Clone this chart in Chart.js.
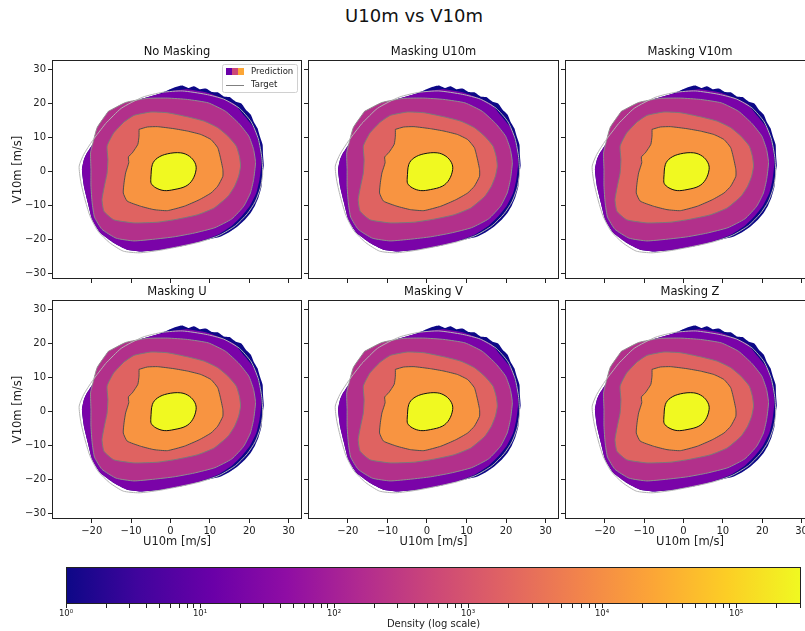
<!DOCTYPE html>
<html>
<head>
<meta charset="utf-8">
<script src="https://cdn.jsdelivr.net/npm/chart.js@4.4.1/dist/chart.umd.min.js"></script>
<style>
  body { margin: 0; background: #fff; }
  #page { position: relative; width: 805px; height: 631px; overflow: hidden; background: #fff; }
  #page canvas { position: absolute; }
  #suptitle { position: absolute; left: 0; top: 6px; width: 828px; text-align: center;
              font: 18px 'DejaVu Sans', sans-serif; line-height: 20px; color: #111; }
</style>
</head>
<body>
<div id="page">
  <div id="suptitle">U10m vs V10m</div>
</div>
<script>
// ---- data ----
const panelTitles = ['No Masking', 'Masking U10m', 'Masking V10m', 'Masking U', 'Masking V', 'Masking Z'];
const xTicks = [-20, -10, 0, 10, 20, 30];
const yTicks = [-30, -20, -10, 0, 10, 20, 30];
const xRange = [-30.1, 33.4];
const yRange = [-31.7, 32.7];
const densityRange = [1, 305000];
const densityTicks = [1, 10, 100, 1000, 10000, 100000];

// density contours (U10m / V10m in m/s), outermost first
const navyU = [-16.1, -12.7, -7.6, -3.3, -0.5, 1.5, 3.0, 4.5, 6.0, 7.5, 9.0, 10.5, 12.0, 13.5, 15.0, 16.5, 18.0, 19.2, 20.4, 21.2, 22.1, 22.7, 23.4, 23.5, 23.7, 23.3, 23.1, 22.4, 21.5, 20.3, 18.9, 17.1, 15.0, 12.6, 7.7, 2.6, -2.5, -7.6, -11.0, -14.4, -17.8, -19.9, -21.0, -22.0, -22.5, -22.0, -21.2, -19.5];
const navyV = [13.3, 17.7, 21.1, 22.6, 23.9, 24.8, 25.2, 24.5, 25.0, 24.1, 24.3, 23.3, 23.2, 22.0, 21.8, 20.5, 19.9, 18.0, 16.6, 14.4, 12.6, 10.3, 7.8, 4.8, 1.8, -1.5, -4.6, -7.5, -10.0, -12.4, -14.3, -16.2, -17.9, -19.3, -20.6, -22.1, -23.1, -23.6, -23.1, -21.1, -18.2, -14.3, -9.3, -4.4, 0.5, 3.4, 5.4, 8.4];

const purpleU = [-16.1, -12.7, -7.6, -3.3, 0.1, 4.3, 9.4, 12.9, 16.3, 18.8, 21.4, 22.6, 23.1, 22.6, 21.8, 20.1, 18.0, 15.4, 12.0, 7.7, 2.6, -2.5, -7.6, -11.0, -14.4, -17.8, -19.9, -21.0, -22.0, -22.5, -22.0, -21.2, -19.5];
const purpleV = [13.3, 17.7, 21.1, 22.6, 23.6, 24.1, 23.1, 21.6, 19.7, 16.2, 12.3, 7.4, 2.5, -2.5, -6.4, -10.3, -13.3, -16.2, -18.7, -20.6, -22.1, -23.1, -23.6, -23.1, -21.1, -18.2, -14.3, -9.3, -4.4, 0.5, 3.4, 5.4, 8.4];

const magentaU = [-15.8, -11.4, -6.0, -0.8, 4.3, 9.6, 14.0, 17.4, 19.9, 21.1, 21.6, 21.1, 20.3, 18.6, 15.6, 11.3, 6.0, 0.9, -4.2, -9.3, -13.8, -17.4, -19.3, -19.9, -20.2, -20.2, -20.3, -19.6, -18.6];
const magentaV = [17.6, 20.2, 21.4, 21.5, 21.1, 20.1, 17.6, 14.0, 10.3, 6.4, 2.5, -2.5, -6.4, -10.3, -14.0, -16.6, -18.2, -19.3, -20.0, -20.5, -19.7, -17.1, -13.5, -9.3, -4.4, 0.5, 5.4, 8.8, 12.9];

const pinkU = [-11.8, -9.3, -5.0, -0.8, 4.3, 8.6, 12.0, 14.6, 16.7, 17.5, 17.8, 17.3, 16.3, 14.6, 11.1, 6.9, 1.8, -3.3, -9.3, -14.4, -16.9, -17.4, -16.8, -16.1, -15.9, -16.1, -14.4];
const pinkV = [14.5, 16.4, 17.4, 17.2, 16.0, 14.7, 12.8, 10.3, 7.4, 4.4, 1.5, -1.5, -4.4, -7.4, -10.8, -12.8, -14.1, -15.0, -15.2, -14.3, -11.8, -8.4, -4.4, -0.5, 3.4, 7.4, 11.3];

const orangeU = [-8.0, -5.9, -3.3, 0.9, 4.3, 7.7, 10.3, 12.0, 12.7, 13.3, 13.3, 12.0, 10.3, 7.3, 3.5, -0.8, -4.2, -7.6, -11.0, -12.0, -11.8, -11.4, -10.6, -10.7, -9.7, -8.3, -8.0];
const orangeV = [12.3, 13.0, 13.1, 12.5, 11.8, 10.8, 9.3, 6.9, 3.9, 0.5, -1.5, -4.4, -6.4, -8.4, -10.3, -11.6, -11.3, -10.3, -8.8, -6.4, -3.4, -0.5, 2.5, 4.2, 5.4, 7.9, 10.3];

const yellowU = [-5.0, -4.6, -3.3, -0.8, 2.6, 4.8, 6.2, 6.5, 5.6, 3.9, 0.9, -1.6, -3.7, -4.9];
const yellowV = [-2.0, 2.0, 3.9, 5.1, 5.4, 4.4, 2.5, 0.5, -2.5, -4.4, -5.4, -5.7, -4.9, -3.6];

// outermost target contour
const targetU = [-16.5, -12.5, -7.0, -2.0, 3.0, 9.0, 13.5, 17.5, 20.5, 22.3, 23.2, 23.4, 22.8, 21.5, 19.5, 16.5, 12.5, 7.5, 2.0, -3.0, -8.0, -12.0, -15.5, -18.5, -20.5, -21.8, -22.8, -23.2, -22.0, -19.8];
const targetV = [14.0, 18.5, 21.8, 23.2, 23.6, 22.6, 21.2, 18.5, 14.5, 9.5, 4.0, -1.0, -5.0, -9.0, -12.5, -16.0, -18.8, -20.8, -22.2, -23.3, -24.0, -23.5, -21.0, -17.5, -13.0, -8.0, -3.0, 1.5, 5.0, 9.0];

// ---- styling / layout ----
const plasma = ['#0d0887', '#41049d', '#6a00a8', '#8f0da4', '#b12a90', '#cc4778',
                '#e16462', '#f2844b', '#fca636', '#fcce25', '#f0f921'];
const levels = [
  { u: navyU, v: navyV, fill: '#0d0887', line: null },
  { u: purpleU, v: purpleV, fill: '#7a03a8', line: null },
  { u: magentaU, v: magentaV, fill: '#b2308b', line: '#8e8e8e' },
  { u: pinkU, v: pinkV, fill: '#df6361', line: '#7a7a7a' },
  { u: orangeU, v: orangeV, fill: '#f89441', line: '#4d4d4d' },
  { u: yellowU, v: yellowV, fill: '#f0f921', line: '#111111' }
];
const colLeft = [52, 308, 565];
const colWidth = [250, 251, 250];
const rowTop = [60, 300];
const plotH = 219;
const AXIS_W = 52, TITLE_H = 25, XAXIS_H = 36, PAD_R = 8;

Chart.defaults.font.family = "'DejaVu Sans', sans-serif";
Chart.defaults.color = '#222';
Chart.defaults.animation = false;

const page = document.getElementById('page');
const fmt = v => (v < 0 ? '\u2212' + Math.abs(v) : String(v));
const loop = (us, vs) => us.map((u, i) => ({ x: u, y: vs[i] })).concat([{ x: us[0], y: vs[0] }]);

const frame = {
  id: 'frame',
  afterDraw(chart) {
    const { ctx, chartArea: a } = chart;
    ctx.save();
    ctx.strokeStyle = '#222';
    ctx.lineWidth = 1;
    ctx.strokeRect(Math.round(a.left) + 0.5, Math.round(a.top) + 0.5,
                   Math.round(a.right - a.left) - 1, Math.round(a.bottom - a.top) - 1);
    ctx.restore();
  }
};

const legendBox = {
  id: 'legendBox',
  afterDraw(chart, args, opts) {
    if (!opts.show) return;
    const { ctx, chartArea: a } = chart;
    const w = 75, h = 28;
    const left = a.right - 5 - w, top = a.top + 4;
    ctx.save();
    ctx.fillStyle = 'rgba(255,255,255,0.85)';
    ctx.strokeStyle = '#d0d0d0';
    ctx.lineWidth = 1;
    ctx.beginPath();
    ctx.roundRect(left + 0.5, top + 0.5, w, h, 2);
    ctx.fill();
    ctx.stroke();
    ['#6a00a8', '#cc4778', '#fca636'].forEach((c, i) => {
      ctx.fillStyle = c;
      ctx.fillRect(left + 4 + i * 6, top + 4, 6, 7);
    });
    ctx.strokeStyle = '#808080';
    ctx.beginPath();
    ctx.moveTo(left + 4, top + 21.5);
    ctx.lineTo(left + 22, top + 21.5);
    ctx.stroke();
    ctx.fillStyle = '#222';
    ctx.font = "8.5px 'DejaVu Sans', sans-serif";
    ctx.textBaseline = 'middle';
    ctx.fillText('Prediction', left + 29, top + 8);
    ctx.fillText('Target', left + 29, top + 21);
    ctx.restore();
  }
};

function buildPanel(idx) {
  const r = Math.floor(idx / 3), c = idx % 3;
  const canvas = document.createElement('canvas');
  canvas.width = AXIS_W + colWidth[c] + PAD_R;
  canvas.height = TITLE_H + plotH + XAXIS_H;
  canvas.style.left = (colLeft[c] - AXIS_W) + 'px';
  canvas.style.top = (rowTop[r] - TITLE_H) + 'px';
  page.appendChild(canvas);

  const datasets = levels.map((lv, i) => ({
    data: loop(lv.u, lv.v),
    showLine: true,
    fill: 'shape',
    backgroundColor: lv.fill,
    borderColor: lv.line || lv.fill,
    borderWidth: lv.line ? 1 : 0,
    pointRadius: 0,
    tension: i === levels.length - 1 ? 0.35 : 0.15,
    order: 10 - i
  }));
  datasets.push({
    data: loop(targetU, targetV),
    showLine: true,
    fill: false,
    borderColor: '#b4b4b4',
    borderWidth: 1,
    pointRadius: 0,
    tension: 0.2,
    order: 0
  });

  new Chart(canvas, {
    type: 'scatter',
    data: { datasets },
    options: {
      responsive: false,
      layout: { padding: { left: 0, right: PAD_R, top: 0, bottom: 0 } },
      plugins: {
        legend: { display: false },
        tooltip: { enabled: false },
        title: {
          display: true, text: panelTitles[idx], fullSize: false, color: '#111',
          font: { size: 11.5, weight: 'normal', lineHeight: '14px' },
          padding: { top: 10, bottom: 1 }
        },
        legendBox: { show: idx === 0 }
      },
      scales: {
        x: {
          type: 'linear', min: xRange[0], max: xRange[1],
          afterBuildTicks: s => { s.ticks = xTicks.map(v => ({ value: v })); },
          afterFit: s => { s.height = XAXIS_H; },
          grid: { drawOnChartArea: false, drawTicks: true, tickLength: 4, tickColor: '#222' },
          border: { display: false },
          ticks: { font: { size: 10 }, padding: 2, maxRotation: 0, autoSkip: false, color: '#222',
                   callback: v => (r === 1 ? fmt(v) : '') },
          title: { display: r === 1, text: 'U10m [m/s]', color: '#222',
                   font: { size: 11.5 }, padding: { top: 0, bottom: 6 } }
        },
        y: {
          type: 'linear', min: yRange[0], max: yRange[1],
          afterBuildTicks: s => { s.ticks = yTicks.map(v => ({ value: v })); },
          afterFit: s => { s.width = AXIS_W; },
          grid: { drawOnChartArea: false, drawTicks: true, tickLength: 4, tickColor: '#222' },
          border: { display: false },
          ticks: { font: { size: 10 }, padding: 2, autoSkip: false, color: '#222',
                   callback: v => (c === 0 ? fmt(v) : '') },
          title: { display: c === 0, text: 'V10m [m/s]', color: '#222',
                   font: { size: 11.5 }, padding: { top: 11, bottom: 0 } }
        }
      }
    },
    plugins: [frame, legendBox]
  });
}

for (let i = 0; i < panelTitles.length; i++) buildPanel(i);

// ---- colorbar ----
const sup = ['\u2070', '\u00b9', '\u00b2', '\u00b3', '\u2074', '\u2075'];
const cbCanvas = document.createElement('canvas');
cbCanvas.width = 805;
cbCanvas.height = 75;
cbCanvas.style.left = '0px';
cbCanvas.style.top = '557px';
page.appendChild(cbCanvas);

const gradientFill = {
  id: 'gradientFill',
  beforeDatasetsDraw(chart) {
    const { ctx, chartArea: a } = chart;
    const g = ctx.createLinearGradient(a.left, 0, a.right, 0);
    plasma.forEach((col, i) => g.addColorStop(i / (plasma.length - 1), col));
    ctx.save();
    ctx.fillStyle = g;
    ctx.fillRect(a.left, a.top, a.right - a.left, a.bottom - a.top);
    ctx.restore();
  }
};

new Chart(cbCanvas, {
  type: 'scatter',
  data: { datasets: [] },
  options: {
    responsive: false,
    layout: { padding: { left: 66, right: 4, top: 10, bottom: 0 } },
    plugins: { legend: { display: false }, tooltip: { enabled: false } },
    scales: {
      x: {
        type: 'logarithmic', min: densityRange[0], max: densityRange[1],
        afterBuildTicks: s => {
          const t = [];
          densityTicks.forEach(base => {
            for (let m = 1; m <= 9; m++) {
              if (base * m <= densityRange[1]) t.push({ value: base * m, major: m === 1 });
            }
          });
          s.ticks = t;
        },
        afterFit: s => { s.height = 28; },
        grid: { drawOnChartArea: false, drawTicks: true, tickLength: 4, tickColor: '#222' },
        border: { display: false },
        ticks: {
          font: { size: 8.5 }, padding: 1, maxRotation: 0, autoSkip: false, color: '#222',
          callback: v => {
            const k = densityTicks.indexOf(v);
            return k >= 0 ? '10' + sup[k] : '';
          }
        },
        title: { display: true, text: 'Density (log scale)', color: '#222',
                 font: { size: 10 }, padding: { top: 0, bottom: 2 } }
      },
      y: { display: false, min: 0, max: 1 }
    }
  },
  plugins: [gradientFill, frame]
});
</script>
</body>
</html>
